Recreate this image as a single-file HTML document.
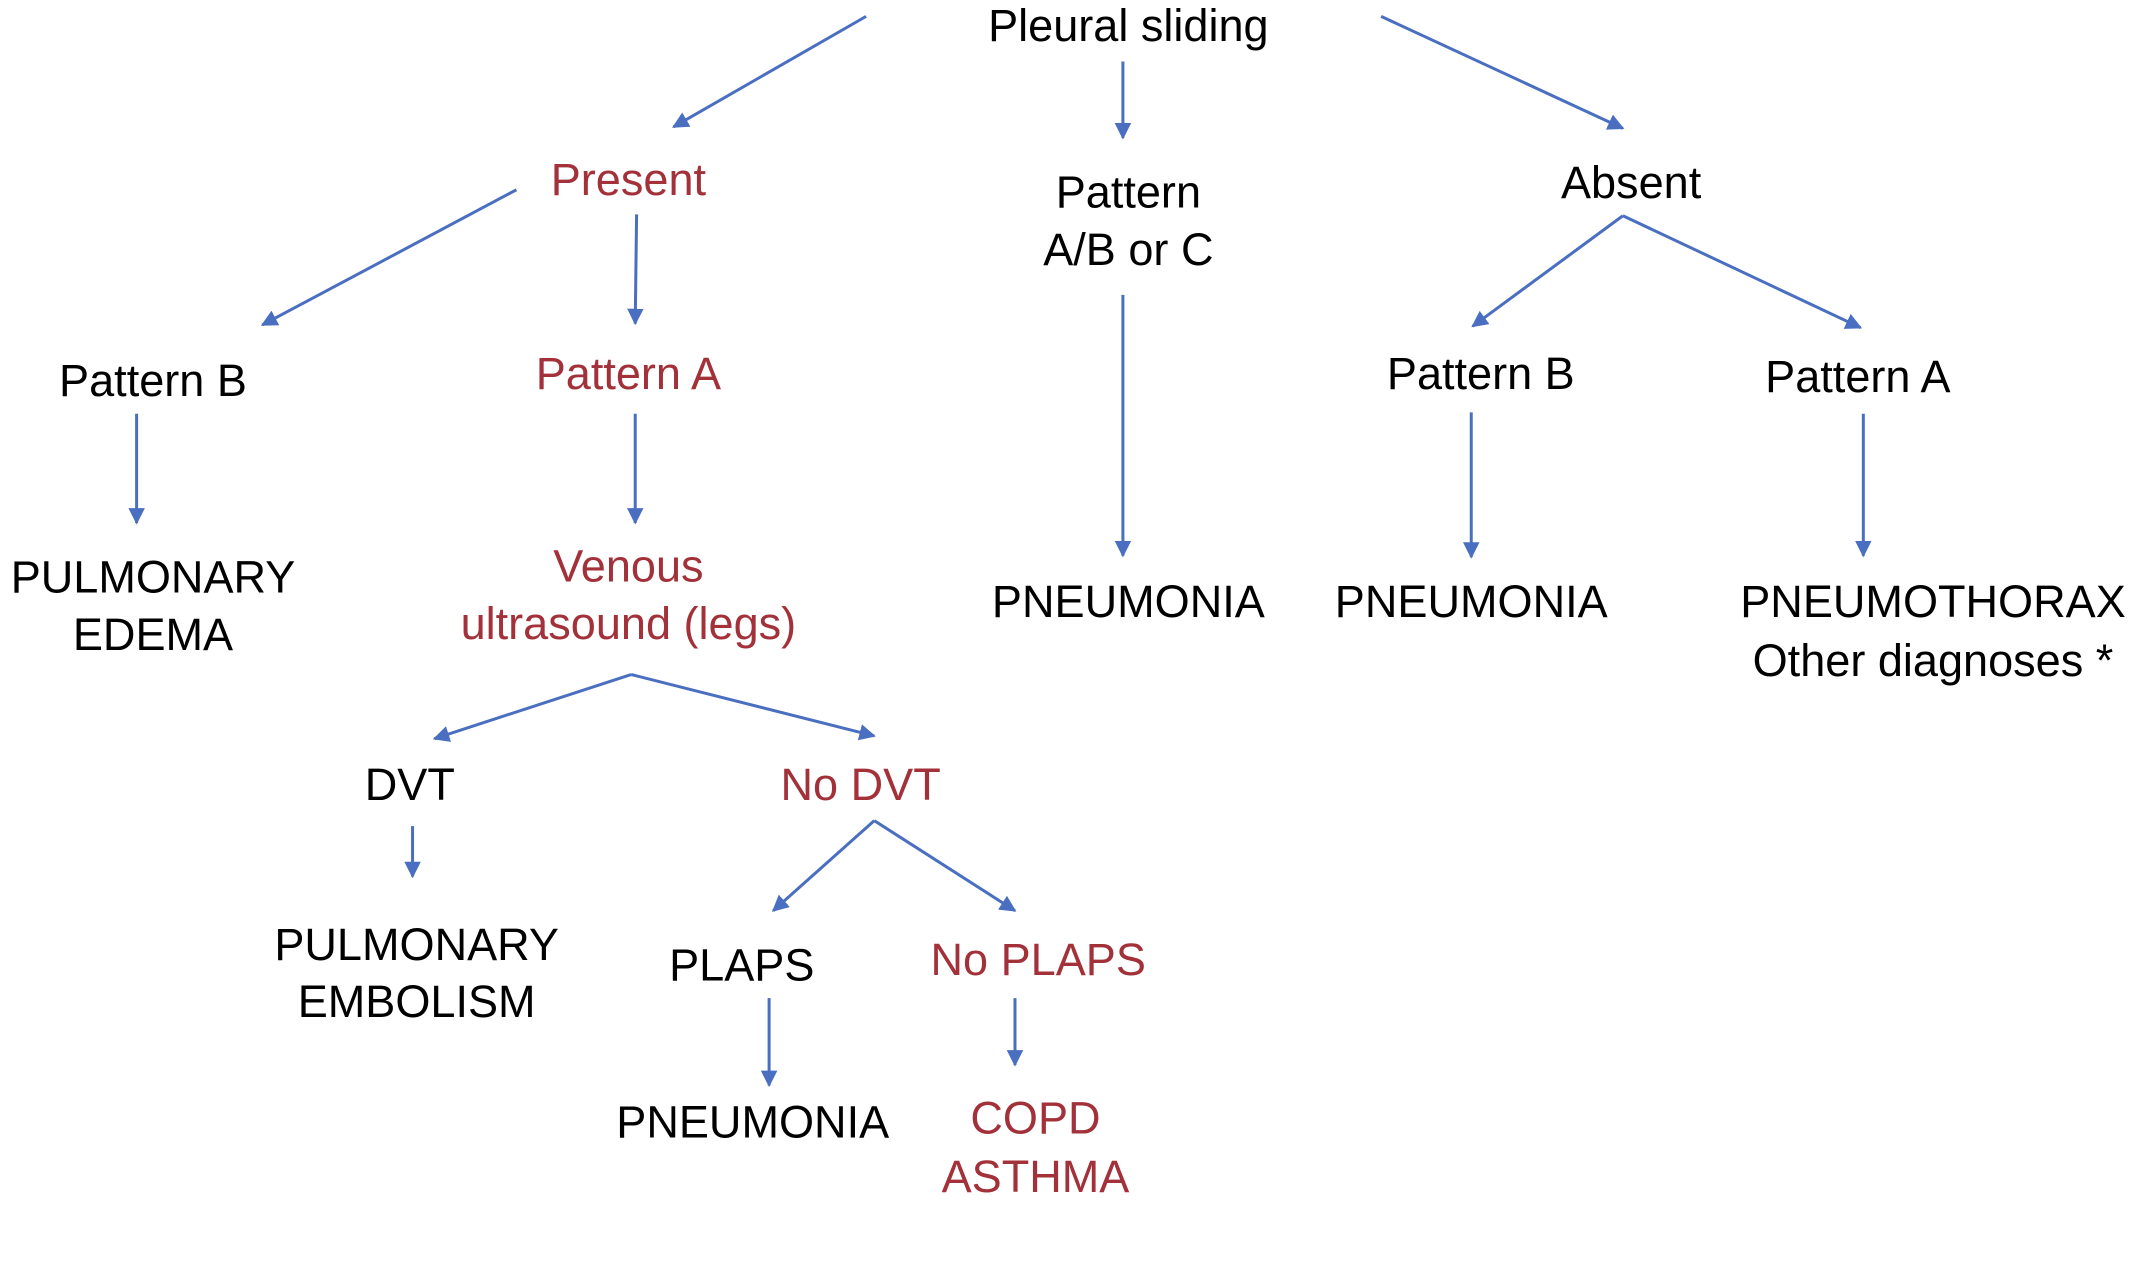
<!DOCTYPE html>
<html><head><meta charset="utf-8"><style>
html,body{margin:0;padding:0;background:#fff;}
svg{display:block;}
text{font-family:"Liberation Sans",Arial,sans-serif;font-size:33px;text-anchor:middle;fill:#000;}
.r{fill:#a3313a;}
line{stroke:#4a6fc0;stroke-width:2.2;}
</style></head><body>
<svg width="2142" height="1263" viewBox="0 0 1568 925" preserveAspectRatio="none" xmlns="http://www.w3.org/2000/svg">
<defs><marker id="a" viewBox="0 0 10 10" refX="9" refY="5" markerWidth="5.5" markerHeight="5.5" orient="auto"><path d="M0,0L10,5L0,10z" fill="#4a6fc0"/></marker></defs>
<g marker-end="url(#a)">
<line x1="634" y1="12" x2="493" y2="93"/>
<line x1="822" y1="45" x2="822" y2="101"/>
<line x1="1011" y1="12" x2="1188" y2="94"/>
<line x1="378" y1="139" x2="192" y2="238"/>
<line x1="466" y1="157" x2="465" y2="237"/>
<line x1="1188" y1="158" x2="1078" y2="239"/>
<line x1="1188" y1="158" x2="1362" y2="240"/>
<line x1="100" y1="303" x2="100" y2="383"/>
<line x1="465" y1="303" x2="465" y2="383"/>
<line x1="822" y1="216" x2="822" y2="407"/>
<line x1="1077" y1="302" x2="1077" y2="408"/>
<line x1="1364" y1="303" x2="1364" y2="407"/>
<line x1="462" y1="494" x2="318" y2="541"/>
<line x1="462" y1="494" x2="640" y2="539"/>
<line x1="302" y1="605" x2="302" y2="642"/>
<line x1="640" y1="601" x2="566" y2="667"/>
<line x1="640" y1="601" x2="743" y2="667"/>
<line x1="563" y1="731" x2="563" y2="795"/>
<line x1="743" y1="731" x2="743" y2="780"/>
</g>
<text x="826" y="30">Pleural sliding</text>
<text class="r" x="460" y="143">Present</text>
<text x="826" y="152">Pattern</text>
<text x="826" y="194">A/B or C</text>
<text x="1194" y="145">Absent</text>
<text x="112" y="290">Pattern B</text>
<text class="r" x="460" y="285">Pattern A</text>
<text x="1084" y="285">Pattern B</text>
<text x="1360" y="287">Pattern A</text>
<text x="112" y="434">PULMONARY</text>
<text x="112" y="476">EDEMA</text>
<text class="r" x="460" y="426">Venous</text>
<text class="r" x="460" y="468">ultrasound (legs)</text>
<text x="826" y="452">PNEUMONIA</text>
<text x="1077" y="452">PNEUMONIA</text>
<text x="1415" y="452">PNEUMOTHORAX</text>
<text x="1415" y="495">Other diagnoses *</text>
<text x="300" y="586">DVT</text>
<text class="r" x="630" y="586">No DVT</text>
<text x="305" y="703">PULMONARY</text>
<text x="305" y="745">EMBOLISM</text>
<text x="543" y="718">PLAPS</text>
<text class="r" x="760" y="714">No PLAPS</text>
<text x="551" y="833">PNEUMONIA</text>
<text class="r" x="758" y="830">COPD</text>
<text class="r" x="758" y="873">ASTHMA</text>
</svg>
</body></html>
